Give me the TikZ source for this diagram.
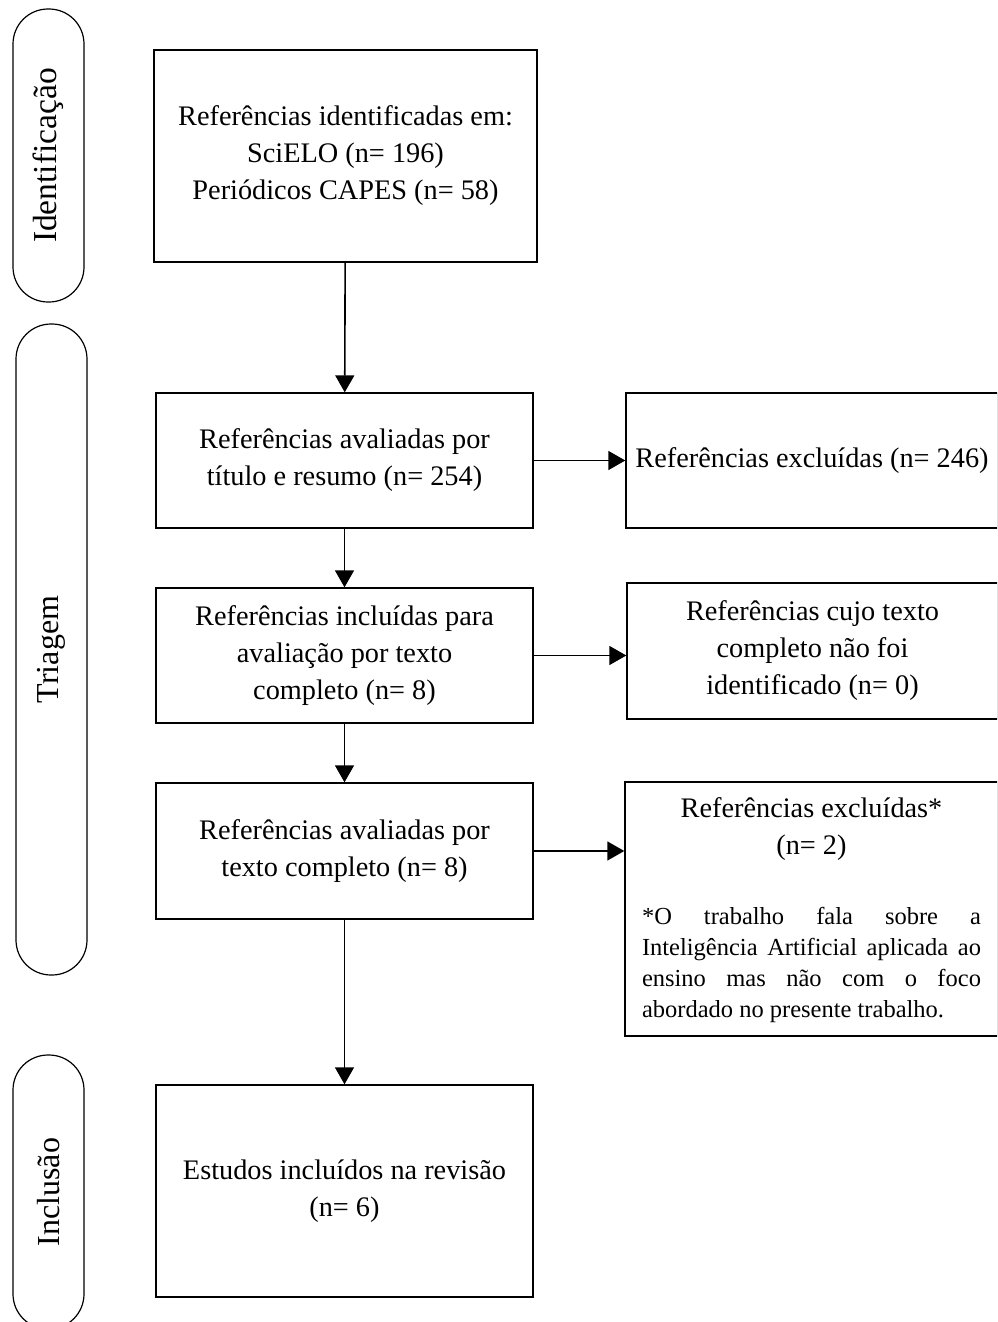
\documentclass[tikz,border=0pt]{standalone}
\usepackage{fontspec}
\setmainfont{Liberation Serif}
\usetikzlibrary{arrows.meta,positioning}

\begin{document}
\begin{tikzpicture}[
    x=1pt, y=-1pt,
    box/.style={draw, line width=1.4pt, align=center, inner sep=0pt,
        font=\fontsize{28.3}{37}\selectfont, minimum width=377pt, minimum height=135pt},
    phase/.style={draw, line width=1.2pt, rounded corners=35pt, rotate=90, minimum height=71pt,
        font=\fontsize{32}{38}\selectfont},
    arr/.style={-{Triangle[length=17pt, width=19pt]}, line width=1.6pt}
]
\clip (0,0) rectangle (997,1322);

% phases on the left
\node[phase, minimum width=293pt, font=\fontsize{33.5}{38}\selectfont] (identificacao) at (48.5,155.5) {Identificação};
\node[phase, minimum width=651pt] (triagem) at (51.5,649.5) {Triagem};
\node[phase, minimum width=274pt] (inclusao) at (48.5,1192) {Inclusão};

% main column
\node[box, minimum width=383pt, minimum height=212pt] (ident) at (345.5,156) {Referências identificadas em:\\SciELO (n= 196)\\Periódicos CAPES (n= 58)};
\node[box] (titulo) at (344.5,460.5) {Referências avaliadas por\\título e resumo (n= 254)};
\node[box] (incl) at (344.5,655.5) {Referências incluídas para\\avaliação por texto\\completo (n= 8)};
\node[box, minimum height=136pt] (texto) at (344.5,851) {Referências avaliadas por\\texto completo (n= 8)};
\node[box, minimum height=212pt] (estudos) at (344.5,1191) {Estudos incluídos na revisão\\(n= 6)};

% exclusions
\node[box, minimum width=372pt] (exc1) at (812,460.5) {Referências excluídas (n= 246)};
\node[box, minimum width=371pt, minimum height=136pt] (exc2) at (812.5,651) {Referências cujo texto\\completo não foi\\identificado (n= 0)};
\node[box, minimum width=373pt, minimum height=254pt] (exc3) at (811.5,909) {};
\node[align=center, inner sep=0pt, font=\fontsize{28.3}{37}\selectfont] (exc3t) at (811.5,829) {Referências excluídas*\\(n= 2)};
\node[text width=339pt, align=justify, inner sep=0pt, font=\fontsize{24.5}{31}\selectfont] (exc3n) at (811.5,965)
    {*O trabalho fala sobre a\linebreak Inteligência Artificial aplicada ao\linebreak ensino mas não com o foco\linebreak abordado no presente trabalho.};

\draw[arr] (ident) -- (titulo);
\draw[arr] (titulo) -- (incl);
\draw[arr] (incl) -- (texto);
\draw[arr] (texto) -- (estudos);
\draw[arr] (titulo) -- (exc1);
\draw[arr] (incl.east) -- (incl.east -| exc2.west);
\draw[arr] (texto.east) -- (texto.east -| exc3.west);
\end{tikzpicture}
\end{document}
